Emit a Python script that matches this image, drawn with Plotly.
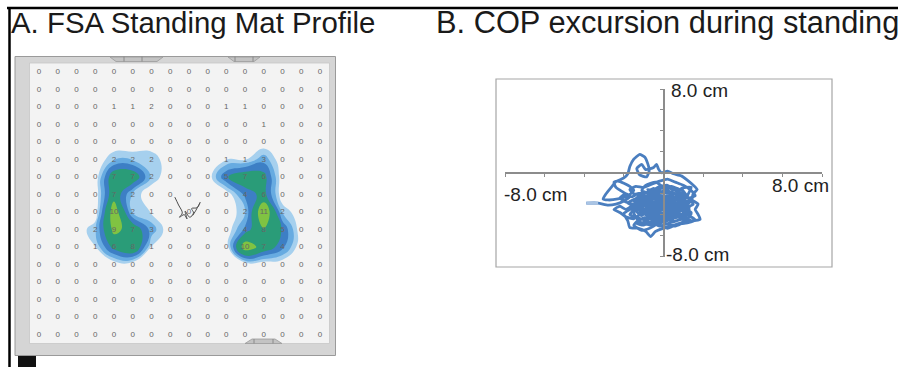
import plotly.graph_objects as go

W, H = 898, 367

# ---------------- Panel A: FSA standing mat pressure grid (row 0 = top) ----------------
mat_cols = list(range(16))
mat_rows = list(range(16))
pressure = [
    [0, 0, 0, 0, 0, 0, 0, 0, 0, 0, 0, 0, 0, 0, 0, 0],
    [0, 0, 0, 0, 0, 0, 0, 0, 0, 0, 0, 0, 0, 0, 0, 0],
    [0, 0, 0, 0, 1, 1, 2, 0, 0, 0, 1, 1, 0, 0, 0, 0],
    [0, 0, 0, 0, 0, 0, 0, 0, 0, 0, 0, 0, 1, 0, 0, 0],
    [0, 0, 0, 0, 0, 0, 0, 0, 0, 0, 0, 0, 0, 0, 0, 0],
    [0, 0, 0, 0, 2, 2, 2, 0, 0, 0, 1, 1, 3, 0, 0, 0],
    [0, 0, 0, 0, 7, 7, 2, 0, 0, 0, 5, 7, 6, 0, 0, 0],
    [0, 0, 0, 0, 7, 2, 0, 0, 0, 0, 0, 4, 6, 0, 0, 0],
    [0, 0, 0, 0, 10, 2, 1, 0, 0, 0, 0, 2, 11, 2, 0, 0],
    [0, 0, 0, 2, 9, 7, 3, 0, 0, 0, 0, 4, 8, 5, 0, 0],
    [0, 0, 0, 1, 6, 8, 1, 0, 0, 0, 0, 10, 7, 4, 0, 0],
    [0, 0, 0, 0, 0, 0, 0, 0, 0, 0, 0, 0, 0, 0, 0, 0],
    [0, 0, 0, 0, 0, 0, 0, 0, 0, 0, 0, 0, 0, 0, 0, 0],
    [0, 0, 0, 0, 0, 0, 0, 0, 0, 0, 0, 0, 0, 0, 0, 0],
    [0, 0, 0, 0, 0, 0, 0, 0, 0, 0, 0, 0, 0, 0, 0, 0],
    [0, 0, 0, 0, 0, 0, 0, 0, 0, 0, 0, 0, 0, 0, 0, 0],
]
# pressure bands (threshold, colour) as shaded on the mat
band_levels = [1.1, 2.2, 3.6, 5.2, 8.2]
band_colors = ["#a6d0ee", "#67abe1", "#3d7fc5", "#2a9c78", "#80c342"]

# small COP scribble printed on the mat (grid units)
mat_cop_x = [7.25, 7.45, 7.65, 7.5, 7.75, 7.9, 7.8, 8.05, 8.25, 8.15, 8.45, 8.6, 8.35, 8.2]
mat_cop_y = [7.15, 7.6, 8.05, 8.3, 8.15, 8.4, 7.95, 8.3, 8.05, 7.8, 7.75, 7.45, 7.95, 8.2]

# ---------------- Panel B: COP excursion (cm), path read in segments ----------------
cop_ticks = [-8, -6, -4, -2, 0, 2, 4, 6, 8]
cop_tail = [(-3.9, -2.9), (-3.3, -2.9), (-2.8, -3.1), (-2.4, -3.0), (-2.0, -2.7), (-1.7, -2.3),
            (-2.0, -1.9), (-2.4, -1.4), (-2.5, -0.9), (-2.3, -0.8), (-2.0, -1.0), (-1.7, -1.3),
            (-1.5, -1.7), (-1.8, -2.2), (-2.3, -2.5), (-2.8, -2.6), (-3.05, -2.5), (-2.9, -2.0),
            (-2.6, -1.3), (-2.4, -0.85)]
cop_top = [(-2.0, -0.5), (-1.8, -0.1), (-1.7, 0.6), (-1.5, 1.3), (-1.2, 1.75), (-0.95, 1.5),
           (-0.8, 0.9), (-0.72, 0.2), (-0.85, -0.4), (-1.2, -0.2), (-1.35, 0.4), (-1.1, 0.8),
           (-0.9, 0.3), (-0.5, 0.5), (-0.35, 0.8), (-0.25, 0.35), (-0.1, 0.0)]
cop_right = [(0.2, 0.15), (0.5, -0.1), (0.9, -0.3), (1.2, -0.7), (1.45, -1.1), (1.7, -1.6),
             (1.5, -2.0), (1.45, -2.6), (1.75, -3.0), (1.6, -3.5), (1.75, -4.0), (1.85, -4.45),
             (1.4, -4.6), (1.0, -4.4)]
cop_core_a = [(-1.2, -3.0), (-0.6, -2.2), (0.2, -1.8), (0.9, -2.3), (1.1, -3.1), (0.6, -3.9),
              (-0.2, -4.3), (-0.9, -3.9), (-1.3, -3.2), (-1.0, -2.4), (-0.3, -1.6), (0.4, -1.3),
              (1.0, -1.8), (1.3, -2.6), (1.0, -3.5), (0.3, -4.1), (-0.5, -4.0), (-1.1, -3.5),
              (-1.4, -2.7), (-0.9, -1.9), (-0.1, -2.3), (0.5, -2.9), (0.2, -3.6), (-0.4, -3.3),
              (-0.7, -2.7), (-0.2, -2.0), (0.6, -2.0), (1.2, -2.2), (0.8, -2.9), (0.1, -3.0),
              (-0.5, -3.7), (-1.0, -4.5), (-0.4, -4.8), (0.3, -4.5), (0.9, -4.0), (1.3, -3.3),
              (0.7, -2.6), (0.0, -2.7), (-0.8, -3.0), (-1.5, -3.8), (-1.2, -4.7), (-0.6, -5.0),
              (0.1, -4.6), (0.6, -3.3), (0.3, -2.4), (-0.4, -2.5), (-1.0, -2.9), (-0.7, -3.6),
              (0.0, -3.9), (0.8, -3.6), (1.4, -3.9), (1.0, -4.7)]
cop_bottom = [(0.5, -5.0), (0.0, -5.3), (-0.4, -5.6), (-0.65, -6.1), (-0.9, -5.6), (-1.3, -5.3),
              (-1.7, -5.25), (-1.8, -4.6), (-2.0, -3.9), (-1.6, -3.4)]
cop_core_c = [(-0.3, -1.4), (0.2, -1.2), (0.5, -1.6), (0.3, -2.1), (0.8, -2.4), (1.1, -2.0),
              (0.9, -1.5), (1.4, -1.4), (1.2, -2.3), (1.5, -3.0), (1.1, -3.4), (1.4, -3.8),
              (0.9, -4.1), (0.6, -3.6), (0.2, -3.9), (0.4, -4.4), (-0.1, -4.7), (-0.5, -4.3),
              (-0.3, -3.8), (-0.8, -3.6), (-1.1, -4.1), (-1.4, -3.6), (-1.0, -3.1), (-1.5, -2.7),
              (-1.2, -2.2), (-0.7, -2.5), (-0.4, -2.1), (-0.8, -1.6), (-0.3, -1.9), (0.1, -2.5),
              (0.6, -2.8), (0.3, -3.3), (-0.2, -3.0), (-0.6, -3.3), (-0.2, -3.6), (0.4, -3.1),
              (0.9, -3.3), (0.7, -2.6), (1.2, -2.7), (1.0, -3.0), (0.5, -3.9), (0.0, -4.2),
              (-0.4, -3.9), (-0.9, -4.5), (-1.3, -4.3), (-1.7, -4.0), (-1.4, -3.3), (-1.8, -2.9),
              (-1.4, -2.5), (-1.0, -2.7), (-0.6, -2.9), (-0.1, -2.6), (0.3, -2.9), (-0.1, -3.3),
              (-0.5, -3.0), (-0.9, -3.2), (-0.5, -3.6), (0.0, -3.5), (0.4, -3.7), (0.8, -3.9),
              (1.2, -4.3), (0.8, -4.5), (0.3, -4.8), (-0.2, -5.1), (-0.6, -4.7), (-1.0, -5.0),
              (-1.4, -4.8), (-1.1, -4.4), (-0.6, -4.1), (-0.2, -4.4), (0.2, -4.1), (0.6, -4.3),
              (1.0, -4.0), (1.3, -3.5), (0.9, -2.8), (0.4, -2.4), (0.0, -2.8), (-0.3, -2.4),
              (-0.7, -2.0), (-1.1, -1.7), (-0.9, -1.2), (-0.4, -0.9), (0.0, -1.4), (0.3, -1.8),
              (0.7, -2.1), (1.0, -2.5), (0.6, -3.1), (0.2, -3.4), (-0.3, -3.2), (-0.7, -2.6),
              (-1.1, -2.3), (-1.3, -2.9), (-1.0, -3.5), (-0.6, -3.8), (-0.2, -4.0), (0.2, -3.7),
              (0.6, -3.4), (1.0, -3.6), (1.3, -4.1), (1.6, -4.5), (1.2, -4.8), (0.7, -4.9),
              (0.2, -5.3), (-0.3, -4.9), (-0.7, -5.3), (-1.1, -5.5), (-1.5, -5.0), (-1.3, -4.6),
              (-0.8, -4.3), (-0.4, -4.6), (0.1, -4.4), (0.5, -4.6), (0.3, -4.0), (-0.1, -3.8),
              (-0.6, -3.5), (-1.0, -3.8), (-1.3, -3.5), (-1.6, -3.2), (-1.9, -3.5), (-2.2, -3.2),
              (-2.5, -3.5), (-2.2, -3.8), (-1.9, -4.2), (-1.5, -4.4), (-1.2, -4.0), (-0.8, -3.9),
              (-0.5, -3.4), (-0.1, -3.1), (0.3, -3.2), (0.7, -3.0), (1.1, -3.2), (1.4, -2.6),
              (1.1, -2.2), (0.7, -1.8), (0.3, -1.5), (-0.1, -1.8), (-0.5, -1.5), (-0.9, -1.9),
              (-1.3, -2.0), (-1.6, -2.3), (-1.9, -2.0), (-2.2, -2.4), (-1.9, -2.8), (-1.5, -3.0),
              (-1.1, -2.9), (-0.7, -3.1), (-0.3, -2.8), (0.1, -3.0), (0.5, -2.6), (0.9, -2.2),
              (1.3, -2.4), (1.6, -2.2), (1.4, -1.7), (1.0, -1.2), (0.6, -0.9), (0.2, -0.6),
              (-0.2, -0.8), (-0.6, -1.1), (-1.0, -1.4), (-1.4, -1.3), (-1.7, -1.6), (-1.5, -2.0),
              (-1.1, -2.1), (-0.7, -2.3), (-0.3, -2.5), (0.2, -2.2), (0.6, -2.4), (1.0, -2.8),
              (0.7, -3.3), (0.3, -3.6), (-0.1, -3.9), (-0.5, -4.1), (-0.9, -4.0), (-1.2, -3.7),
              (-0.8, -3.4), (-0.4, -3.2), (0.0, -3.3), (0.4, -3.5), (0.8, -3.7), (0.5, -4.1),
              (0.1, -4.5), (-0.3, -4.2), (-0.7, -4.4), (-1.0, -4.7), (-0.6, -4.9), (-0.2, -4.6),
              (0.2, -4.9), (0.6, -5.1), (1.0, -4.8), (1.4, -4.6), (1.1, -4.3), (0.7, -4.1),
              (0.4, -4.3)]
cop_segments = [cop_tail, cop_top, cop_right, cop_core_a, cop_bottom, cop_core_c]


def px(x):
    return x / W


def py(y):
    return 1 - y / H


FONT = "Liberation Sans, Arial, Helvetica, sans-serif"

fig = go.Figure()

# pressure bands: one filled contour level per band (rows from 3 downward)
contour_rows = mat_rows[3:]
for lev, col in zip(band_levels, band_colors):
    fig.add_trace(go.Contour(
        x=mat_cols, y=contour_rows, z=pressure[3:],
        xaxis="x", yaxis="y", autocontour=False,
        contours=dict(start=lev, end=lev, size=1, coloring="fill", showlines=False),
        line=dict(width=0, smoothing=1.3),
        colorscale=[[0.0, "rgba(0,0,0,0)"], [1.0, col]],
        showscale=False, hoverinfo="skip",
    ))

# numbers on each sensor
tx, ty, tt = [], [], []
for r in mat_rows:
    for c in mat_cols:
        tx.append(c)
        ty.append(r)
        tt.append(str(pressure[r][c]))
fig.add_trace(go.Scatter(
    x=tx, y=ty, text=tt, mode="text", xaxis="x", yaxis="y",
    textfont=dict(size=8, color="#666666", family=FONT),
    hoverinfo="skip", showlegend=False,
))

fig.add_trace(go.Scatter(
    x=mat_cop_x, y=mat_cop_y, mode="lines", xaxis="x", yaxis="y",
    line=dict(color="#4d4d4d", width=1, shape="spline"),
    hoverinfo="skip", showlegend=False,
))

# COP trace
cop_x = [p[0] for seg in cop_segments for p in seg]
cop_y = [p[1] for seg in cop_segments for p in seg]
fig.add_trace(go.Scatter(
    x=cop_x, y=cop_y, mode="lines", xaxis="x2", yaxis="y2",
    line=dict(color="#4a7ebf", width=2.8, shape="spline", smoothing=0.5),
    hoverinfo="skip", showlegend=False,
))
# lighter start of the recording
fig.add_trace(go.Scatter(
    x=[p[0] for p in cop_tail[:2]], y=[p[1] for p in cop_tail[:2]],
    mode="lines", xaxis="x2", yaxis="y2",
    line=dict(color="#a9c4e4", width=2.8),
    hoverinfo="skip", showlegend=False,
))

axis_style = dict(showgrid=False, zeroline=False, showticklabels=False,
                  showline=True, linecolor="#8c8c8c", linewidth=1.5,
                  ticks="outside", ticklen=3, tickwidth=1, tickcolor="#8c8c8c",
                  tickvals=cop_ticks, range=[-8, 8], fixedrange=True)

fig.update_layout(
    width=W, height=H,
    margin=dict(l=0, r=0, t=0, b=0),
    paper_bgcolor="white", plot_bgcolor="rgba(0,0,0,0)",
    showlegend=False,
    xaxis=dict(domain=[px(29.6), px(329.4)], range=[-0.5, 15.5], visible=False,
               anchor="y", fixedrange=True),
    yaxis=dict(domain=[py(343.25), py(63.25)], range=[15.5, -0.5], visible=False,
               anchor="x", fixedrange=True),
    xaxis2=dict(domain=[px(505), px(822)], anchor="free", position=py(172.75),
                side="bottom", **axis_style),
    yaxis2=dict(domain=[py(256.5), py(89)], anchor="free", position=px(663.5),
                side="left", **axis_style),
)

shapes = []
# mat frame
shapes.append(dict(type="rect", xref="paper", yref="paper", layer="below",
                   x0=px(15), x1=px(335.5), y0=py(355.5), y1=py(56.5),
                   fillcolor="#d5d5d5", line=dict(color="#9a9a9a", width=1)))
shapes.append(dict(type="rect", xref="paper", yref="paper", layer="below",
                   x0=px(29.5), x1=px(329.5), y0=py(343.5), y1=py(63),
                   fillcolor="#f3f3f3", line=dict(color="#c6c6c6", width=0.8)))
# tabs on mat
for (a, b, t1, t2) in [(110, 163, 124, 142), (228, 260, 235, 253)]:
    shapes.append(dict(type="path", xref="paper", yref="paper", layer="below",
                       path=f"M{px(a)},{py(57)} L{px(b)},{py(57)} L{px(b-6)},{py(61.5)} L{px(a+6)},{py(61.5)} Z",
                       fillcolor="#c3c3c3", line=dict(color="#9a9a9a", width=0.8)))
    for t in (t1, t2):
        shapes.append(dict(type="line", xref="paper", yref="paper",
                           x0=px(t), x1=px(t), y0=py(56.5), y1=py(61.5),
                           line=dict(color="#8a8a8a", width=1)))
shapes.append(dict(type="path", xref="paper", yref="paper", layer="below",
                   path=f"M{px(245)},{py(343.5)} L{px(282)},{py(343.5)} L{px(275)},{py(339)} L{px(252)},{py(339)} Z",
                   fillcolor="#c3c3c3", line=dict(color="#9a9a9a", width=0.8)))
for t in (254, 273):
    shapes.append(dict(type="line", xref="paper", yref="paper",
                       x0=px(t), x1=px(t), y0=py(343.5), y1=py(339),
                       line=dict(color="#8a8a8a", width=1)))
# black cable block
shapes.append(dict(type="rect", xref="paper", yref="paper",
                   x0=px(18), x1=px(36), y0=py(367), y1=py(356),
                   fillcolor="#111111", line=dict(width=0)))
# figure border lines
shapes.append(dict(type="line", xref="paper", yref="paper",
                   x0=px(7), x1=px(898), y0=py(8), y1=py(8),
                   line=dict(color="black", width=2.5)))
shapes.append(dict(type="line", xref="paper", yref="paper",
                   x0=px(9.5), x1=px(9.5), y0=py(7), y1=py(367),
                   line=dict(color="black", width=2.5)))
# panel B box
shapes.append(dict(type="rect", xref="paper", yref="paper",
                   x0=px(496), x1=px(832), y0=py(267), y1=py(79),
                   line=dict(color="#a6a6a6", width=1.2)))
fig.update_layout(shapes=shapes)

ann = []
ann.append(dict(text="A. FSA Standing Mat Profile", xref="paper", yref="paper",
                x=px(9), y=py(22), xanchor="left", yanchor="middle", showarrow=False,
                font=dict(size=29.4, color="#1a1a1a", family=FONT)))
ann.append(dict(text="B. COP excursion during standing", xref="paper", yref="paper",
                x=px(434), y=py(22), xanchor="left", yanchor="middle", showarrow=False,
                font=dict(size=30.8, color="#1a1a1a", family=FONT)))
lab_font = dict(size=19, color="#222222", family=FONT)
ann.append(dict(text="8.0 cm", xref="x2", yref="y2", x=0, y=cop_ticks[-1], xshift=5,
                yshift=-1, xanchor="left", yanchor="middle", showarrow=False, font=lab_font))
ann.append(dict(text="-8.0 cm", xref="x2", yref="y2", x=0, y=cop_ticks[0], xshift=0,
                yshift=2, xanchor="left", yanchor="middle", showarrow=False, font=lab_font))
ann.append(dict(text="-8.0 cm", xref="x2", yref="y2", x=cop_ticks[0], y=0, xshift=-3,
                yshift=-22, xanchor="left", yanchor="middle", showarrow=False, font=lab_font))
ann.append(dict(text="8.0 cm", xref="x2", yref="y2", x=cop_ticks[-1], y=0, xshift=9,
                yshift=-13, xanchor="right", yanchor="middle", showarrow=False, font=lab_font))
fig.update_layout(annotations=ann)

fig.write_html("out.html")
